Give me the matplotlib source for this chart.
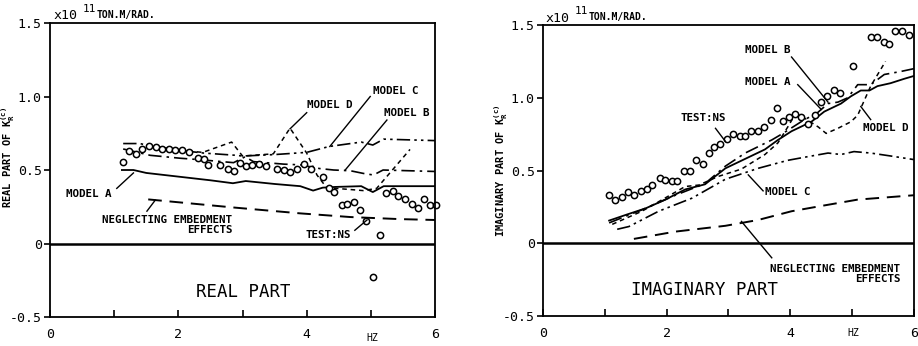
import matplotlib
matplotlib.use("Agg")
from matplotlib import pyplot as plt
import matplotlib.transforms as mtransforms

plt.rcParams['font.family'] = 'DejaVu Sans Mono'
plt.rcParams['axes.linewidth'] = 1.3

# ---- real part (x 1e11 ton.m/rad) ----
real_a_f = [1.12, 1.3, 1.5, 2.0, 2.5, 2.85, 3.05, 3.5, 3.9, 4.1, 4.25, 4.45, 4.85, 5.03, 5.2, 6.0]
real_a = [0.50, 0.50, 0.48, 0.455, 0.43, 0.41, 0.425, 0.405, 0.39, 0.36, 0.38, 0.385, 0.39, 0.35, 0.39, 0.39]

real_b_f = [1.14, 1.56, 2.03, 2.34, 2.86, 3.04, 3.17, 3.64, 3.9, 4.2, 4.42, 4.68, 4.88, 5.04, 5.19, 6.0]
real_b = [0.643, 0.60, 0.58, 0.57, 0.55, 0.59, 0.557, 0.54, 0.535, 0.51, 0.50, 0.495, 0.477, 0.466, 0.50, 0.49]

real_c_f = [1.14, 1.4, 1.55, 2.0, 2.4, 2.9, 3.0, 3.5, 4.0, 4.35, 4.85, 5.03, 5.2, 6.0]
real_c = [0.68, 0.68, 0.665, 0.635, 0.615, 0.60, 0.595, 0.605, 0.62, 0.66, 0.69, 0.67, 0.71, 0.70]

real_d_f = [1.51, 2.0, 2.38, 2.83, 3.0, 3.48, 3.74, 4.0, 4.16, 4.31, 4.6, 4.88, 5.09, 5.61]
real_d = [0.67, 0.635, 0.62, 0.69, 0.595, 0.61, 0.785, 0.615, 0.466, 0.38, 0.37, 0.36, 0.375, 0.64]

real_ne_f = [1.53, 2.86, 3.9, 4.68, 5.45, 6.0]
real_ne = [0.30, 0.245, 0.205, 0.18, 0.166, 0.16]

real_test_f = [1.13, 1.23, 1.34, 1.44, 1.55, 1.65, 1.75, 1.85, 1.95, 2.06, 2.17, 2.3, 2.4,
               2.46, 2.65, 2.78, 2.87, 2.96, 3.06, 3.15, 3.26, 3.36, 3.53, 3.64, 3.74, 3.85,
               3.96, 4.07, 4.25, 4.35, 4.43, 4.55, 4.63, 4.74, 4.83, 4.93, 5.03, 5.14,
               5.24, 5.34, 5.43, 5.53, 5.64, 5.74, 5.83, 5.92, 6.02]
real_test = [0.555, 0.63, 0.61, 0.64, 0.665, 0.655, 0.645, 0.64, 0.635, 0.635, 0.62, 0.58, 0.575,
             0.534, 0.534, 0.51, 0.495, 0.55, 0.53, 0.535, 0.54, 0.53, 0.51, 0.50, 0.485, 0.51,
             0.54, 0.505, 0.45, 0.38, 0.35, 0.26, 0.27, 0.28, 0.225, 0.15, -0.23, 0.055,
             0.345, 0.355, 0.325, 0.30, 0.27, 0.24, 0.30, 0.265, 0.26]

# ---- imaginary part ----
imag_a_f = [1.07, 1.34, 1.66, 1.98, 2.3, 2.62, 2.95, 3.27, 3.59, 3.8, 4.02, 4.34, 4.55, 4.82,
            4.98, 5.14, 5.28, 5.41, 5.62, 5.84, 6.0]
imag_a = [0.156, 0.195, 0.24, 0.30, 0.37, 0.405, 0.515, 0.58, 0.645, 0.71, 0.77, 0.835, 0.905,
          0.96, 1.01, 1.05, 1.05, 1.08, 1.10, 1.13, 1.15]

imag_b_f = [1.07, 1.6, 2.14, 2.62, 2.95, 3.27, 3.7, 3.88, 4.23, 4.42, 4.61, 4.77, 4.93, 5.09,
            5.30, 5.52, 5.78, 6.0]
imag_b = [0.14, 0.23, 0.33, 0.41, 0.53, 0.62, 0.71, 0.755, 0.85, 0.89, 0.96, 0.97, 1.0, 1.09,
          1.09, 1.16, 1.18, 1.20]

imag_c_f = [1.2, 1.39, 1.87, 2.41, 2.95, 3.48, 3.96, 4.28, 4.61, 4.82, 5.03, 5.3, 5.62, 6.0]
imag_c = [0.096, 0.115, 0.22, 0.31, 0.44, 0.515, 0.57, 0.595, 0.62, 0.61, 0.63, 0.62, 0.60, 0.575]

imag_d_f = [1.12, 1.6, 2.3, 2.52, 2.84, 3.21, 3.59, 3.8, 3.96, 4.07, 4.23, 4.45, 4.58, 4.77,
            4.98, 5.09, 5.2, 5.3, 5.54]
imag_d = [0.13, 0.22, 0.39, 0.40, 0.46, 0.51, 0.61, 0.69, 0.80, 0.88, 0.86, 0.80, 0.755, 0.79,
          0.835, 0.88, 0.985, 1.08, 1.25]

imag_ne_f = [1.47, 2.14, 2.95, 3.48, 4.02, 4.55, 5.09, 6.0]
imag_ne = [0.03, 0.08, 0.12, 0.16, 0.22, 0.26, 0.30, 0.33]

imag_test_f = [1.07, 1.16, 1.27, 1.38, 1.47, 1.58, 1.68, 1.77, 1.89, 1.98, 2.08, 2.17, 2.28,
               2.38, 2.47, 2.58, 2.68, 2.77, 2.87, 2.97, 3.08, 3.18, 3.27, 3.36, 3.47, 3.58,
               3.69, 3.79, 3.88, 3.98, 4.07, 4.18, 4.29, 4.40, 4.50, 4.59, 4.70, 4.81, 5.01,
               5.30, 5.41, 5.51, 5.60, 5.70, 5.81, 5.92]
imag_test = [0.33, 0.30, 0.32, 0.355, 0.33, 0.36, 0.37, 0.40, 0.45, 0.435, 0.43, 0.43, 0.50,
             0.50, 0.57, 0.545, 0.62, 0.66, 0.68, 0.72, 0.75, 0.74, 0.74, 0.77, 0.77, 0.80,
             0.85, 0.93, 0.84, 0.865, 0.885, 0.865, 0.82, 0.88, 0.97, 1.01, 1.05, 1.03, 1.22,
             1.415, 1.42, 1.38, 1.37, 1.46, 1.46, 1.43]

# labels: text, text x, text y, leader from (x0, y0) to (x1, y1)
real_notes = [
    ("MODEL C", 5.38, 1.04, 4.99, 1.0, 4.36, 0.66),
    ("MODEL D", 4.36, 0.94, 4.0, 0.89, 3.74, 0.78),
    ("MODEL B", 5.56, 0.89, 5.25, 0.84, 4.6, 0.5),
    ("MODEL A", 0.61, 0.34, 1.04, 0.375, 1.3, 0.48),
    ("NEGLECTING EMBEDMENT\nEFFECTS", 1.83, 0.123, 1.51, 0.22, 1.64, 0.295),
    ("TEST:NS", 4.34, 0.06, 4.75, 0.09, 4.94, 0.16),
]
imag_notes = [
    ("MODEL B", 3.64, 1.33, 4.02, 1.28, 4.61, 0.97),
    ("MODEL A", 3.64, 1.11, 4.12, 1.09, 4.5, 0.92),
    ("TEST:NS", 2.6, 0.86, 2.79, 0.79, 2.95, 0.70),
    ("MODEL D", 5.54, 0.79, 5.3, 0.85, 5.14, 0.94),
    ("MODEL C", 3.96, 0.35, 3.56, 0.36, 3.32, 0.47),
    ("NEGLECTING EMBEDMENT\nEFFECTS", 4.73, -0.213, 3.70, -0.10, 3.21, 0.15),
]

fig = plt.figure(figsize=(9.18, 3.46), dpi=100)
ax1 = fig.add_axes([0.0545, 0.0838, 0.4194, 0.8497])
ax2 = fig.add_axes([0.5915, 0.0867, 0.4041, 0.8410])

sty_a = dict(color='k', lw=1.3, ls='-')
sty_b = dict(color='k', lw=1.2, ls=(0, (8, 3, 1.5, 3)))
sty_c = dict(color='k', lw=1.2, ls=(0, (8, 2.5, 1.5, 2.5, 1.5, 2.5)))
sty_d = dict(color='k', lw=1.1, ls=(0, (3, 2.5)))
sty_ne = dict(color='k', lw=1.4, ls=(0, (7, 4)))
sty_t = dict(ls='none', marker='o', ms=4.5, mfc='white', mec='k', mew=1.1)

panels = [
    (ax1, real_a_f, real_a, real_b_f, real_b, real_c_f, real_c, real_d_f, real_d,
     real_ne_f, real_ne, real_test_f, real_test, real_notes,
     "REAL PART", 3.01, -0.33, 'REAL PART OF $\\mathregular{K_R^{(c)}}$', -0.086, 0.544,
     -0.071),
    (ax2, imag_a_f, imag_a, imag_b_f, imag_b, imag_c_f, imag_c, imag_d_f, imag_d,
     imag_ne_f, imag_ne, imag_test_f, imag_test, imag_notes,
     "IMAGINARY PART", 2.62, -0.32, 'IMAGINARY PART OF $\\mathregular{K_R^{(c)}}$', -0.088, 0.50,
     -0.058),
]

for (ax, af, a, bf, b, cf, c, df, d, nf, n, tf, t, notes,
     title, tx, ty, ylab, ylx, yly, hzy) in panels:
    ax.axhline(0, color='k', lw=1.8)
    ax.plot(af, a, **sty_a)
    ax.plot(bf, b, **sty_b)
    ax.plot(cf, c, **sty_c)
    ax.plot(df, d, **sty_d)
    ax.plot(nf, n, **sty_ne)
    ax.plot(tf, t, clip_on=False, **sty_t)

    for txt, x, y, x0, y0, x1, y1 in notes:
        ax.text(x, y, txt, ha='center', va='center', fontsize=7.8, fontweight='bold',
                multialignment='right', linespacing=1.0)
        ax.plot([x0, x1], [y0, y1], color='k', lw=1.0)

    ax.text(tx, ty, title, ha='center', va='center', fontsize=12.5)

    ax.set_xlim(0, 6)
    ax.set_ylim(-0.5, 1.5)
    ax.set_xticks([0, 1, 2, 3, 4, 5, 6])
    ax.set_xticklabels(['0', '', '2', '', '4', '', '6'])
    ax.set_yticks([-0.5, 0, 0.5, 1.0, 1.5])
    ax.set_yticklabels(['-0.5', '0', '0.5', '1.0', '1.5'])
    ax.tick_params(axis='x', direction='in', length=5, width=1.2, pad=8, labelsize=9.5)
    ax.tick_params(axis='y', direction='out', length=4, width=1.2, pad=2, labelsize=9.5)

    ax.set_ylabel(ylab, fontsize=7.5, fontweight='bold')
    ax.yaxis.set_label_coords(ylx, yly)

    trans = mtransforms.blended_transform_factory(ax.transData, ax.transAxes)
    ax.text(5.02, hzy, "HZ", transform=trans, ha='center', va='center', fontsize=7)

    ax.text(0.008, 1.012, "x10", transform=ax.transAxes, fontsize=9.5, va='baseline')
    ax.text(0.086, 1.038, "11", transform=ax.transAxes, fontsize=8, va='baseline')
    ax.text(0.122, 1.017, "TON.M/RAD.", transform=ax.transAxes, fontsize=7,
            fontweight='bold', va='baseline')

fig.savefig("out.png", dpi=100)
plt.close()
